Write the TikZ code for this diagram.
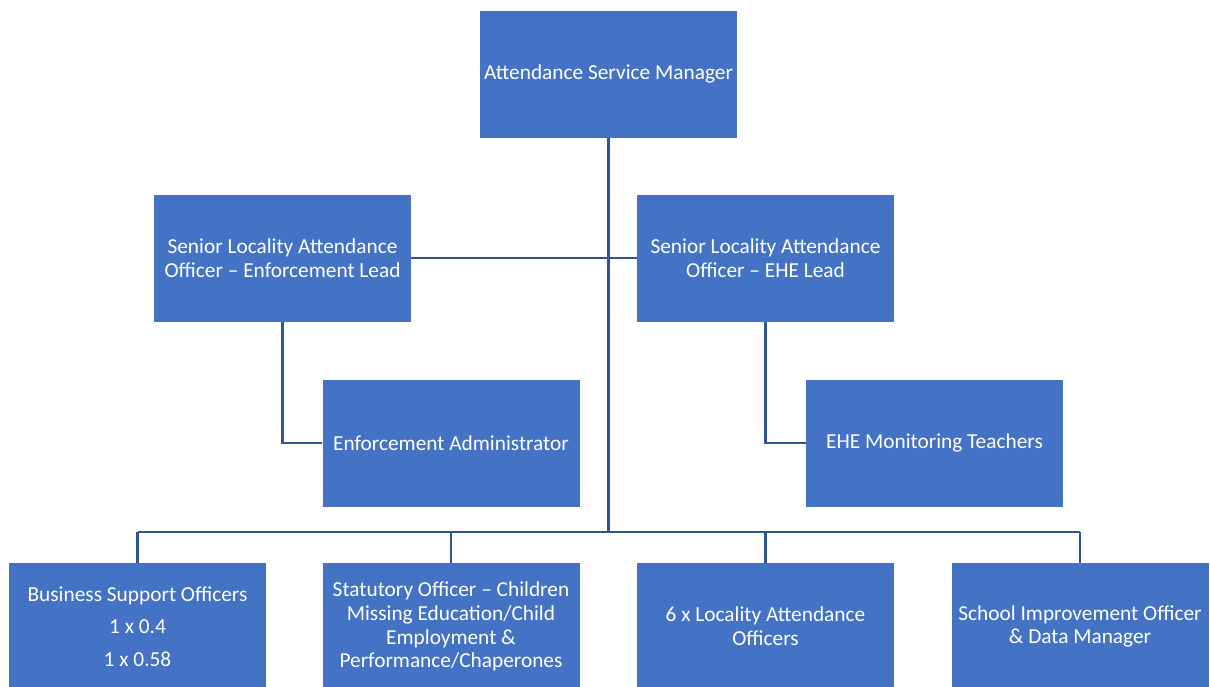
\documentclass[tikz,border=0pt]{standalone}
\usepackage{fontspec}
\setmainfont{Carlito}
\definecolor{boxblue}{RGB}{68,114,196}
\definecolor{lineblue}{RGB}{47,85,151}
\tikzset{
  rolebox/.style={draw=none, fill=boxblue, text=white, minimum width=192.75pt, minimum height=95.25pt, inner sep=0pt, align=center, font=\fontsize{16}{17.8}\selectfont},
  link/.style={draw=lineblue, line width=2pt}
}
\begin{document}
\begin{tikzpicture}[x=0.75pt,y=0.75pt,yscale=-1,xscale=1]
%set diagram frame to 1210 x 686, bottom row runs off the page
\useasboundingbox (0,0) rectangle (1210,686);

% Boxes
\node [rolebox] (asm) at (608.5,74) {Attendance Service Manager};
\node [rolebox] (slenf) at (282.5,258) {Senior Locality Attendance\\Officer -- Enforcement Lead};
\node [rolebox] (slehe) at (765.5,258) {Senior Locality Attendance\\Officer -- EHE Lead};
\node [rolebox] (enfadmin) at (451,443) {Enforcement Administrator};
\node [rolebox] (ehemon) at (934.5,443) {EHE Monitoring Teachers};
\node [rolebox] (bso) at (137.5,626.5) {Business Support Officers\\[6.5pt]1 x 0.4\\[6.5pt]1 x 0.58};
\node [rolebox] (stat) at (451,626.5) {Statutory Officer -- Children\\Missing Education/Child\\Employment \&\\Performance/Chaperones};
\node [rolebox] (lao) at (765.5,626.5) {6 x Locality Attendance\\Officers};
\node [rolebox] (sio) at (1080,626.5) {School Improvement Officer\\\& Data Manager};

% Bus line
\coordinate (bus) at (609,532);

% Connectors
\draw [link] (asm.south) -- (asm.south |- bus);
\draw [link] (slenf) -- (slehe);
\draw [link] (slenf.south) |- (enfadmin.west);
\draw [link] (slehe.south) |- (ehemon.west);
\draw [link] (bso.north |- bus) -- (sio.north |- bus);
\draw [link] (bso.north) -- (bso.north |- bus);
\draw [link] (stat.north) -- (stat.north |- bus);
\draw [link] (lao.north) -- (lao.north |- bus);
\draw [link] (sio.north) -- (sio.north |- bus);

\end{tikzpicture}
\end{document}
